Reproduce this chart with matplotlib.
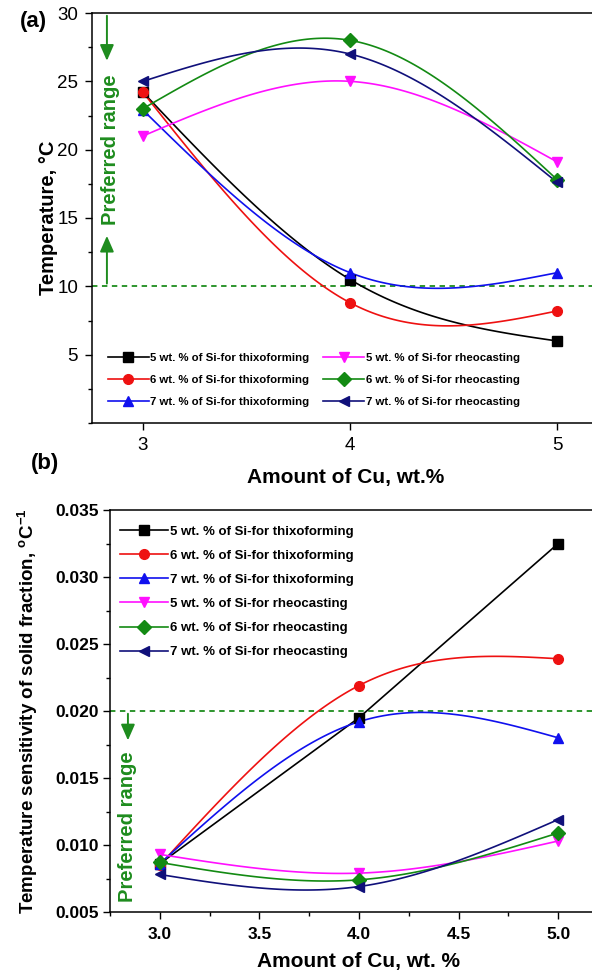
import numpy as np
import matplotlib
matplotlib.use("Agg")
import matplotlib.pyplot as plt
from matplotlib.ticker import MultipleLocator, FormatStrFormatter

plt.rcParams['font.family'] = ['Liberation Sans', 'DejaVu Sans']
plt.rcParams['mathtext.fontset'] = 'custom'
plt.rcParams['mathtext.rm'] = 'Liberation Sans'
plt.rcParams['mathtext.bf'] = 'Liberation Sans:bold'

cu = [3, 4, 5]

labels = ["5 wt. % of Si-for thixoforming", "6 wt. % of Si-for thixoforming",
          "7 wt. % of Si-for thixoforming", "5 wt. % of Si-for rheocasting",
          "6 wt. % of Si-for rheocasting", "7 wt. % of Si-for rheocasting"]
colors = ["black", "#ee1111", "#1010ee", "#ff10ff", "#138a13", "#10107a"]
markers = ["s", "o", "^", "v", "D", "<"]

# (a) temperature range, C
temp_thixo_5si = [24.2, 10.5, 6.0]
temp_thixo_6si = [24.2, 8.8, 8.2]
temp_thixo_7si = [22.9, 11.0, 11.0]
temp_rheo_5si = [21.0, 25.0, 19.1]
temp_rheo_6si = [23.0, 28.0, 17.8]
temp_rheo_7si = [25.0, 27.0, 17.6]

# (b) temperature sensitivity of solid fraction, 1/C
sens_thixo_5si = [0.0086, 0.0195, 0.0325]
sens_thixo_6si = [0.0085, 0.0219, 0.0239]
sens_thixo_7si = [0.0086, 0.0192, 0.0180]
sens_rheo_5si = [0.0093, 0.0079, 0.0103]
sens_rheo_6si = [0.0087, 0.0074, 0.0109]
sens_rheo_7si = [0.0078, 0.0069, 0.0119]

green = "#1e8c1e"
arrow_style = '-|>,head_length=0.8,head_width=0.35'


def natural_spline(xs, ys, n=120):
    xs = np.asarray(xs, float)
    ys = np.asarray(ys, float)
    k = len(xs)
    h = np.diff(xs)
    A = np.zeros((k, k))
    r = np.zeros(k)
    A[0, 0] = 1
    A[-1, -1] = 1
    for i in range(1, k - 1):
        A[i, i - 1] = h[i - 1]
        A[i, i] = 2 * (h[i - 1] + h[i])
        A[i, i + 1] = h[i]
        r[i] = 6 * ((ys[i + 1] - ys[i]) / h[i] - (ys[i] - ys[i - 1]) / h[i - 1])
    M = np.linalg.solve(A, r)
    xx = np.linspace(xs[0], xs[-1], n)
    yy = np.empty_like(xx)
    for j, x in enumerate(xx):
        i = min(np.searchsorted(xs, x, side='right') - 1, k - 2)
        a = xs[i + 1] - x
        b = x - xs[i]
        yy[j] = (M[i] * a ** 3 + M[i + 1] * b ** 3) / (6 * h[i]) \
            + (ys[i] / h[i] - M[i] * h[i] / 6) * a + (ys[i + 1] / h[i] - M[i + 1] * h[i] / 6) * b
    return xx, yy


def draw_series(ax, series, straight=()):
    handles = []
    for idx, ys in enumerate(series):
        c = colors[idx]
        if idx in straight:
            ax.plot(cu, ys, color=c, lw=1.2, zorder=2)
        else:
            xx, yy = natural_spline(cu, ys)
            ax.plot(xx, yy, color=c, lw=1.2, zorder=2)
        ax.plot(cu, ys, ls='none', marker=markers[idx], color=c, ms=7, zorder=3)
        h, = ax.plot([], [], color=c, lw=1.2, marker=markers[idx], ms=7, label=labels[idx])
        handles.append(h)
    return handles


fig = plt.figure(figsize=(5.92, 9.76), dpi=100)

# ---------- panel (a) ----------
ax1 = fig.add_axes([92 / 592, 1 - 423 / 976, 517 / 592, 410 / 976])
h1 = draw_series(ax1, [temp_thixo_5si, temp_thixo_6si, temp_thixo_7si,
                       temp_rheo_5si, temp_rheo_6si, temp_rheo_7si])
ax1.set_xlim(2.754, 5.25)
ax1.set_ylim(0, 30)
ax1.set_xticks(cu)
ax1.set_yticks([5, 10, 15, 20, 25, 30])
ax1.yaxis.set_minor_locator(MultipleLocator(2.5))
ax1.tick_params(axis='both', which='major', direction='out', length=5, width=1, labelsize=13.5, pad=5)
ax1.tick_params(axis='y', which='minor', direction='out', length=3, width=1)
ax1.tick_params(top=False, right=False)
for s in ax1.spines.values():
    s.set_linewidth(1.1)
ax1.axhline(10, color=green, lw=1.3, ls=(0, (3, 2.5)), zorder=1)
ax1.annotate("", xy=(2.826, 26.3), xytext=(2.826, 30),
             arrowprops=dict(arrowstyle=arrow_style, color=green, lw=1.4, mutation_scale=12))
ax1.annotate("", xy=(2.826, 13.9), xytext=(2.826, 10),
             arrowprops=dict(arrowstyle=arrow_style, color=green, lw=1.4, mutation_scale=12))
ax1.text(2.845, 20.0, "Preferred range", rotation=90, color=green, fontsize=14.5,
         fontweight='bold', ha='center', va='center')
ax1.set_ylabel("Temperature, \u00b0C", fontsize=14.5, fontweight='bold')
ax1.yaxis.set_label_coords(-0.066, 0.5)
ax1.set_xlabel("Amount of Cu, wt.%", fontsize=15, fontweight='bold')
ax1.xaxis.set_label_coords(0.49, -0.11)
ax1.legend(handles=h1, ncol=2, loc='lower left', bbox_to_anchor=(0.019, 0.024),
           frameon=False, borderpad=0, prop={'size': 8.2, 'weight': 'bold'},
           handlelength=3.6, handletextpad=0.15, columnspacing=1.2,
           labelspacing=1.07, numpoints=1)
fig.text(33 / 592, 1 - 22 / 976, "(a)", fontsize=16, fontweight='bold', ha='center', va='center')

# ---------- panel (b) ----------
ax2 = fig.add_axes([110 / 592, 1 - 912 / 976, 498 / 592, 402 / 976])
h2 = draw_series(ax2, [sens_thixo_5si, sens_thixo_6si, sens_thixo_7si,
                       sens_rheo_5si, sens_rheo_6si, sens_rheo_7si], straight=(0,))
ax2.set_xlim(2.75, 5.25)
ax2.set_ylim(0.005, 0.035)
ax2.xaxis.set_major_locator(MultipleLocator(0.5))
ax2.xaxis.set_minor_locator(MultipleLocator(0.25))
ax2.yaxis.set_major_locator(MultipleLocator(0.005))
ax2.yaxis.set_minor_locator(MultipleLocator(0.0025))
ax2.xaxis.set_major_formatter(FormatStrFormatter('%.1f'))
ax2.yaxis.set_major_formatter(FormatStrFormatter('%.3f'))
ax2.tick_params(axis='both', which='major', direction='out', length=5, width=1, labelsize=12.5)
ax2.tick_params(axis='x', which='major', pad=6)
ax2.tick_params(axis='y', which='major', pad=3)
ax2.tick_params(axis='both', which='minor', direction='out', length=3, width=1)
ax2.tick_params(top=False, right=False, which='both')
plt.setp(ax2.get_xticklabels() + ax2.get_yticklabels(), fontweight='bold')
for s in ax2.spines.values():
    s.set_linewidth(1.1)
ax2.axhline(0.020, color=green, lw=1.3, ls=(0, (3, 2.5)), zorder=1)
ax2.annotate("", xy=(2.84, 0.0176), xytext=(2.84, 0.020),
             arrowprops=dict(arrowstyle=arrow_style, color=green, lw=1.4, mutation_scale=12))
ax2.text(2.838, 0.0114, "Preferred range", rotation=90, color=green, fontsize=14.5,
         fontweight='bold', ha='center', va='center')
ax2.set_ylabel(r"Temperature sensitivity of solid fraction, $^{\mathbf{o}}\mathbf{C}^{\mathbf{-1}}$",
               fontsize=13.5, fontweight='bold')
ax2.yaxis.set_label_coords(-0.14, 0.5)
ax2.set_xlabel("Amount of Cu, wt. %", fontsize=15, fontweight='bold')
ax2.xaxis.set_label_coords(0.498, -0.1)
ax2.legend(handles=h2, loc='upper left', bbox_to_anchor=(0.006, 0.978),
           frameon=False, borderpad=0, prop={'size': 9.5, 'weight': 'bold'},
           handlelength=3.7, handletextpad=0.1, labelspacing=0.9, numpoints=1)
fig.text(45 / 592, 1 - 463 / 976, "(b)", fontsize=16, fontweight='bold', ha='center', va='center')

fig.savefig("out.png", dpi=100)
